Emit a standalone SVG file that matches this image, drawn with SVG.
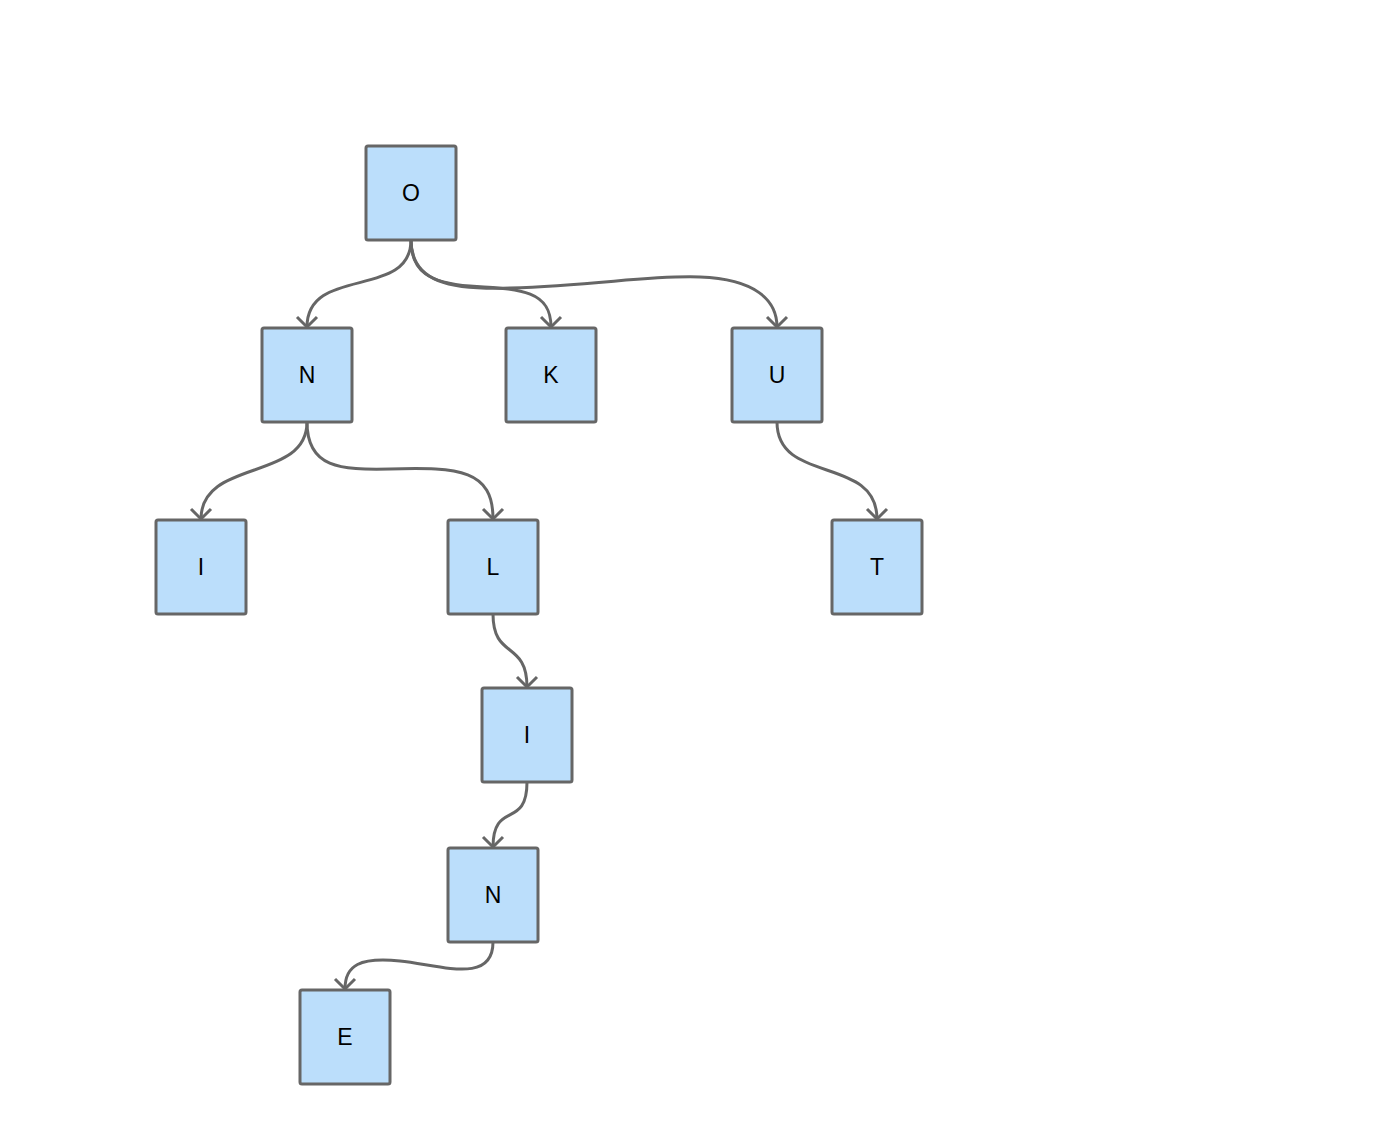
<svg xmlns="http://www.w3.org/2000/svg" width="1392" height="1126" viewBox="0 0 1392 1126">
<style>
.node rect{fill:#bbdefb;stroke:#666666;stroke-width:3}
.node text{font-family:"Liberation Sans",Arial,sans-serif;font-size:23px;fill:#000;text-anchor:middle;dominant-baseline:central}
.edge{fill:none;stroke:#666666;stroke-width:3;marker-end:url(#arrow)}
</style>
<defs>
<marker id="arrow" viewBox="-13 -13 16 26" refX="0" refY="0" markerWidth="16" markerHeight="26" markerUnits="userSpaceOnUse" orient="auto">
<path d="M-10,-10 L0,0 L-10,10" fill="none" stroke="#666666" stroke-width="3" stroke-linecap="butt"/>
</marker>
</defs>
<rect width="1392" height="1126" fill="#ffffff"/>
<g id="connectors">
<path class="edge" d="M411,240 C411,300 307,265 307,327"/>
<path class="edge" d="M411,240 C411,272 430,283 470,286 C520,289 551,290 551,327"/>
<path class="edge" d="M411,240 C411,282 450,290 510,288 C600,285 650,275 700,277 C755,279 777,300 777,327"/>
<path class="edge" d="M307,422 C307,482 201,458 201,519"/>
<path class="edge" d="M307,422 C307,468 340,470 390,469 C460,467 493,470 493,519"/>
<path class="edge" d="M777,422 C777,485 877,455 877,519"/>
<path class="edge" d="M493,614 C493,660 527,640 527,687"/>
<path class="edge" d="M527,782 C527,830 493,800 493,847"/>
<path class="edge" d="M493,942 C493,985 440,965 400,961 C360,957 345,965 345,989"/>
</g>
<g id="node-O" class="node"><rect x="366" y="146" width="90" height="94" rx="2"/><text x="411" y="193">O</text></g>
<g id="node-N1" class="node"><rect x="262" y="328" width="90" height="94" rx="2"/><text x="307" y="375">N</text></g>
<g id="node-K" class="node"><rect x="506" y="328" width="90" height="94" rx="2"/><text x="551" y="375">K</text></g>
<g id="node-U" class="node"><rect x="732" y="328" width="90" height="94" rx="2"/><text x="777" y="375">U</text></g>
<g id="node-I1" class="node"><rect x="156" y="520" width="90" height="94" rx="2"/><text x="201" y="567">I</text></g>
<g id="node-L" class="node"><rect x="448" y="520" width="90" height="94" rx="2"/><text x="493" y="567">L</text></g>
<g id="node-T" class="node"><rect x="832" y="520" width="90" height="94" rx="2"/><text x="877" y="567">T</text></g>
<g id="node-I2" class="node"><rect x="482" y="688" width="90" height="94" rx="2"/><text x="527" y="735">I</text></g>
<g id="node-N2" class="node"><rect x="448" y="848" width="90" height="94" rx="2"/><text x="493" y="895">N</text></g>
<g id="node-E" class="node"><rect x="300" y="990" width="90" height="94" rx="2"/><text x="345" y="1037">E</text></g>
</svg>
